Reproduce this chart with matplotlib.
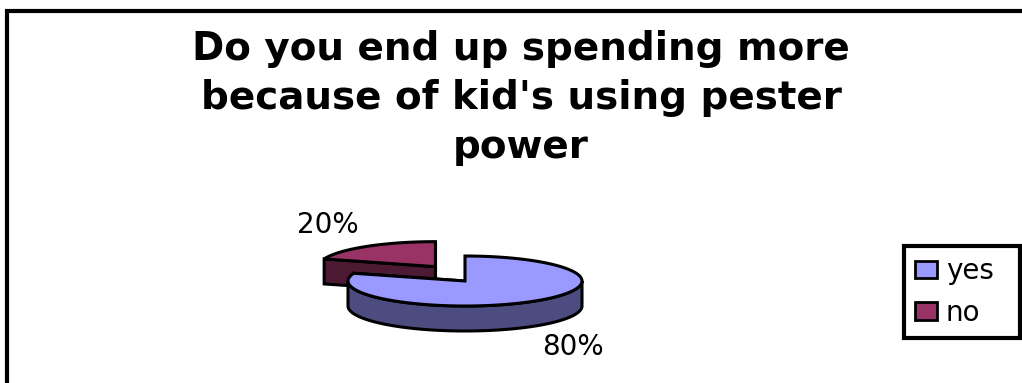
import numpy as np
import matplotlib.pyplot as plt
from matplotlib.patches import Polygon, Patch

# Survey answers
labels = ['yes', 'no']
values = [80, 20]
pct_labels = ['80%', '20%']
top_colors = ['#9999ff', '#993366']
side_colors = ['#4c4c80', '#4d1a33']
explode = [0.0, 0.43]

title = "Do you end up spending more\nbecause of kid's using pester\npower"

# 3-D pie geometry (pixel units)
cx, cy = 465, 281
rx, ry = 117, 25
depth = 25
lift = 1.65      # extra vertical pull for the exploded slice (perspective)
lw = 2.2

fig = plt.figure(figsize=(10.22, 3.83), dpi=100)
ax = fig.add_axes([0, 0, 1, 1])
ax.set_xlim(0, 1022)
ax.set_ylim(383, 0)
ax.axis('off')


def pt(x0, y0, t, dz=0):
    return x0 + rx * np.cos(t), y0 - ry * np.sin(t) + dz


def draw_slice(a0, a1, ex, top, side, label):
    mid = (a0 + a1) / 2
    x0 = cx + ex * rx * np.cos(mid)
    y0 = cy - ex * lift * ry * np.sin(mid)

    # radial walls
    for a in (a0, a1):
        ex_, ey_ = pt(x0, y0, a)
        wall = [(x0, y0), (ex_, ey_), (ex_, ey_ + depth), (x0, y0 + depth)]
        ax.add_patch(Polygon(wall, closed=True, fc=side, ec='black', lw=lw,
                             joinstyle='miter'))

    # outer rim, front half only
    ts = np.linspace(a0, a1, 400)
    front = ts[np.sin(ts) < 0]
    if len(front) > 1:
        xs, ys = pt(x0, y0, front)
        rim = list(zip(xs, ys)) + list(zip(xs[::-1], ys[::-1] + depth))
        ax.add_patch(Polygon(rim, closed=True, fc=side, ec='black', lw=lw,
                             joinstyle='miter'))

    # top face
    xs, ys = pt(x0, y0, ts)
    face = [(x0, y0)] + list(zip(xs, ys))
    ax.add_patch(Polygon(face, closed=True, fc=top, ec='black', lw=lw,
                         joinstyle='miter'))

    # percentage label
    lx = x0 + 1.57 * rx * np.cos(mid)
    ly = y0 - 2.05 * ry * np.sin(mid) + (depth if np.sin(mid) < 0 else 0)
    ax.text(lx, ly, label, ha='center', va='center', fontsize=20,
            family='DejaVu Sans')


# angles run clockwise from 12 o'clock
fracs = np.array(values) / sum(values)
starts = np.pi / 2 - np.concatenate([[0], np.cumsum(fracs)[:-1]]) * 2 * np.pi
ends = starts - fracs * 2 * np.pi

# back slice first, front slice last
for i in [1, 0]:
    draw_slice(ends[i], starts[i], explode[i], top_colors[i], side_colors[i],
               pct_labels[i])

ax.text(521, 158, title, ha='center', va='baseline', fontsize=28,
        fontweight='bold', family='DejaVu Sans', linespacing=1.36)

handles = [Patch(fc=c, ec='black', lw=2) for c in top_colors]
leg = ax.legend(handles, labels, loc='upper left', mode='expand',
                bbox_to_anchor=(904, 246, 116, 87), bbox_transform=ax.transData,
                borderaxespad=0, fancybox=False, framealpha=1,
                edgecolor='black', prop={'family': 'DejaVu Sans', 'size': 20},
                handlelength=0.8, handleheight=0.6, handletextpad=0.3,
                labelspacing=0.5, borderpad=0.4)
leg.get_frame().set_linewidth(3)

# chart area border
ax.plot([7, 7, 1022], [383, 10.5, 10.5], color='black', lw=3,
        solid_joinstyle='miter')

fig.savefig('out.png', dpi=100)
